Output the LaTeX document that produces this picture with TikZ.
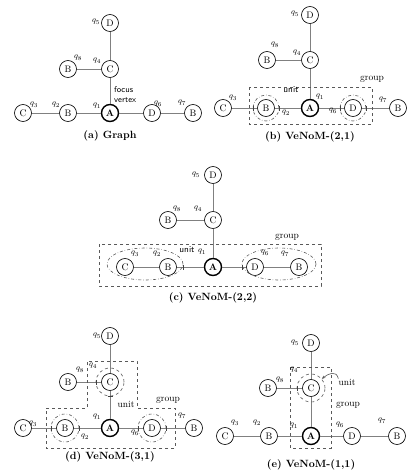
\documentclass[tikz,border=0pt]{standalone}
\usetikzlibrary{shapes.geometric,arrows.meta}
\tikzset{
  x=1pt,y=1pt,
  v/.style={circle,draw=black,line width=0.65pt,minimum size=17pt,inner sep=0pt,font=\fontsize{9.5}{10}\selectfont},
  fv/.style={v,line width=1.4pt,font=\fontsize{9.5}{10}\selectfont\bfseries},
  e/.style={draw=black!50,line width=0.9pt},
  ql/.style={inner sep=0pt,font=\fontsize{8.5}{9}\selectfont},
  grp/.style={draw=black!65,dashed,line width=0.6pt},
  uc/.style={circle,draw=black!65,dash dot,line width=0.6pt,minimum size=#1,inner sep=0pt},
  ue/.style={ellipse,draw=black!65,dash dot,line width=0.6pt,inner sep=0pt},
  tk/.style={draw=black!75,line width=0.6pt},
  captxt/.style={font=\fontsize{10.5}{11}\selectfont\bfseries},
  lbl/.style={inner sep=0pt,font=\fontsize{9.5}{10}\selectfont},
  slbl/.style={inner sep=0pt,font=\fontsize{9}{10}\selectfont\sffamily},
}
\newcommand\graphedges[1]{%
  \draw[e] (#1D5) -- (#1C4) (#1C4) -- (#1B8) (#1C4) -- (#1A) (#1A) -- (#1B2)
           (#1B2) -- (#1C3) (#1A) -- (#1D6) (#1D6) -- (#1B7);}
\newcommand\vtk[2]{\draw[tk] ([xshift=#2,yshift=2.5pt]#1.center) -- ([xshift=#2,yshift=-2.5pt]#1.center);}
\newcommand\htk[2]{\draw[tk] ([xshift=-2.5pt,yshift=#2]#1.center) -- ([xshift=2.5pt,yshift=#2]#1.center);}
\begin{document}
\begin{tikzpicture}
\useasboundingbox (0,0) rectangle (420,-475);
% ---------------- (a)
\node[v] (aD5) at (110,-23) {D};
\node[v] (aC4) at (110,-69) {C};
\node[v] (aB8) at (68,-69) {B};
\node[fv] (aA) at (110,-113) {A};
\node[v] (aB2) at (68,-113) {B};
\node[v] (aC3) at (23,-113) {C};
\node[v] (aD6) at (152,-113) {D};
\node[v] (aB7) at (193,-113) {B};
\graphedges{a}
\node[ql] (aq5) at (96,-22) {$q_5$};
\node[ql] (aq8) at (78,-58) {$q_8$};
\node[ql] (aq4) at (97,-61) {$q_4$};
\node[ql] (aq3) at (34,-105) {$q_3$};
\node[ql] (aq2) at (56,-105) {$q_2$};
\node[ql] (aq1) at (97,-106) {$q_1$};
\node[ql] (aq6) at (158,-104) {$q_6$};
\node[ql] (aq7) at (182,-103) {$q_7$};
\node[slbl,align=left,anchor=west,font=\fontsize{8.5}{10}\selectfont\sffamily] (afv) at (114,-95) {focus\\vertex};
\node[captxt] (acap) at (110,-136) {(a) Graph};
% ---------------- (b)
\node[v] (bD5) at (310,-15) {D};
\node[v] (bC4) at (310,-60) {C};
\node[v] (bB8) at (267,-60) {B};
\node[fv] (bA) at (310,-108) {A};
\node[v] (bB2) at (266,-108) {B};
\node[v] (bC3) at (223,-108) {C};
\node[v] (bD6) at (353,-108) {D};
\node[v] (bB7) at (398,-108) {B};
\graphedges{b}
\draw[grp] (249,-87) rectangle (372,-124);
\node[uc=26pt] (buB) at (bB2) {};
\node[uc=26pt] (buD) at (bD6) {};
\vtk{bB2}{-13pt}\vtk{bB2}{13pt}\vtk{bD6}{-13pt}\vtk{bD6}{13pt}
\node[slbl] (bunit) at (291,-90) {unit};
\node[lbl] (bgroup) at (372,-79) {group};
\node[ql] (bq5) at (295,-14) {$q_5$};
\node[ql] (bq8) at (275,-45) {$q_8$};
\node[ql] (bq4) at (297,-53) {$q_4$};
\node[ql] (bq3) at (233,-98) {$q_3$};
\node[ql] (bq2) at (286,-113) {$q_2$};
\node[ql] (bq1) at (320,-97) {$q_1$};
\node[ql] (bq6) at (333,-111) {$q_6$};
\node[ql] (bq7) at (383,-100) {$q_7$};
\node[captxt] (bcap) at (310,-137) {(b) VeNoM-(2,1)};
% ---------------- (c)
\node[v] (cD5) at (213,-175) {D};
\node[v] (cC4) at (213,-220) {C};
\node[v] (cB8) at (168,-220) {B};
\node[fv] (cA) at (213,-267) {A};
\node[v] (cB2) at (168,-267) {B};
\node[v] (cC3) at (125,-267) {C};
\node[v] (cD6) at (255,-267) {D};
\node[v] (cB7) at (299,-267) {B};
\graphedges{c}
\draw[grp] (99,-244) rectangle (321,-286);
\node[ue,minimum width=76pt,minimum height=32pt] (cuL) at (145,-264) {};
\node[ue,minimum width=74pt,minimum height=32pt] (cuR) at (279,-264) {};
\draw[tk] (183,-264.5) -- (183,-269.5);
\draw[tk] (242,-264.5) -- (242,-269.5);
\node[slbl] (cunit) at (187,-250) {unit};
\node[lbl] (cgroup) at (287,-237) {group};
\node[ql] (cq5) at (196,-175) {$q_5$};
\node[ql] (cq8) at (177,-209) {$q_8$};
\node[ql] (cq4) at (198,-209) {$q_4$};
\node[ql] (cq3) at (135,-254) {$q_3$};
\node[ql] (cq2) at (157,-254) {$q_2$};
\node[ql] (cq1) at (202,-252) {$q_1$};
\node[ql] (cq6) at (265,-253) {$q_6$};
\node[ql] (cq7) at (285,-254) {$q_7$};
\node[captxt] (ccap) at (213,-298) {(c) VeNoM-(2,2)};
% ---------------- (d)
\node[v] (dD5) at (110,-336) {D};
\node[v] (dC4) at (110,-382) {C};
\node[v] (dB8) at (68,-382) {B};
\node[fv] (dA) at (110,-428) {A};
\node[v] (dB2) at (65,-428) {B};
\node[v] (dC3) at (23,-428) {C};
\node[v] (dD6) at (152,-428) {D};
\node[v] (dB7) at (194,-428) {B};
\graphedges{d}
\draw[grp] (46,-408) -- (87,-408) -- (87,-361) -- (137,-361) -- (137,-408)
  -- (175,-408) -- (175,-448) -- (46,-448) -- cycle;
\node[uc=28pt,dashed] (duC) at (dC4) {};
\node[uc=28pt] (duB) at (dB2) {};
\node[uc=28pt] (duD) at (dD6) {};
\vtk{dC4}{-14pt}\htk{dC4}{-14pt}
\vtk{dB2}{-14pt}\vtk{dB2}{14pt}\vtk{dD6}{-14pt}\vtk{dD6}{14pt}
\node[lbl] (dunit) at (126,-404) {unit};
\node[lbl] (dgroup) at (168,-400) {group};
\node[ql] (dq5) at (97,-336) {$q_5$};
\node[ql] (dq8) at (80,-370) {$q_8$};
\node[ql] (dq4) at (93,-366) {$q_4$};
\node[ql] (dq3) at (33,-424) {$q_3$};
\node[ql] (dq1) at (97,-417) {$q_1$};
\node[ql] (dq2) at (85,-437) {$q_2$};
\node[ql] (dq6) at (135,-433) {$q_6$};
\node[ql] (dq7) at (182,-416) {$q_7$};
\node[captxt] (dcap) at (110,-457) {(d) VeNoM-(3,1)};
% ---------------- (e)
\node[v] (eD5) at (311,-343) {D};
\node[v] (eC4) at (311,-388) {C};
\node[v] (eB8) at (268,-388) {B};
\node[fv] (eA) at (311,-436) {A};
\node[v] (eB2) at (269,-436) {B};
\node[v] (eC3) at (225,-436) {C};
\node[v] (eD6) at (352,-436) {D};
\node[v] (eB7) at (397,-436) {B};
\graphedges{e}
\draw[grp] (290,-367) rectangle (331,-448);
\node[uc=28pt,dashed] (euC) at (eC4) {};
\vtk{eC4}{-14pt}
\node[lbl] (eunit) at (347,-382) {unit};
\node[lbl] (egroup) at (348,-405) {group};
\draw[draw=black!65,line width=0.6pt,-{Stealth[length=3.5pt,width=3pt]}] (eunit.north west)
  .. controls +(-2,9) and +(6,5) .. (euC.40);
\node[ql] (eq5) at (295,-343) {$q_5$};
\node[ql] (eq8) at (280,-380) {$q_8$};
\node[ql] (eq4) at (294,-370) {$q_4$};
\node[ql] (eq3) at (235,-423) {$q_3$};
\node[ql] (eq2) at (257,-423) {$q_2$};
\node[ql] (eq1) at (294,-426) {$q_1$};
\node[ql] (eq6) at (340,-425) {$q_6$};
\node[ql] (eq7) at (382,-421) {$q_7$};
\node[captxt] (ecap) at (311,-465) {(e) VeNoM-(1,1)};
\end{tikzpicture}
\end{document}
